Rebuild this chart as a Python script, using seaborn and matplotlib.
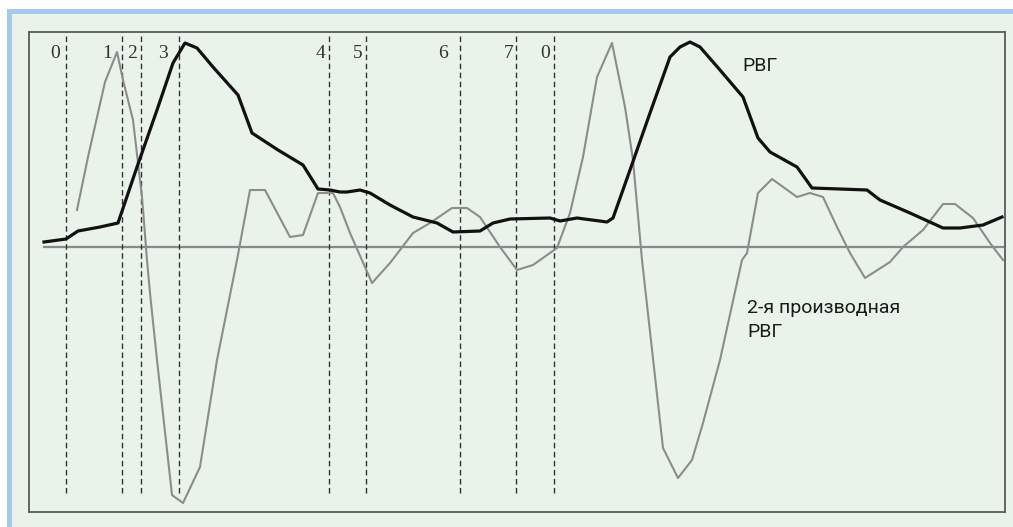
import numpy as np
import pandas as pd
import matplotlib.pyplot as plt
from matplotlib.patches import Rectangle
import seaborn as sns

# РВГ curve (time, amplitude)
rvg_t = [15, 37, 49, 71, 89, 108, 128, 144, 156, 168, 184, 209, 223, 249, 274, 289,
         301, 311, 318, 331, 341, 361, 384, 408, 424, 451, 464, 481, 521, 531, 548,
         578, 584, 601, 621, 641, 651, 661, 671, 691, 714, 729, 741, 768, 783, 838,
         851, 881, 914, 931, 954, 973]
rvg_v = [5, 8, 16, 20, 24, 80, 137, 184, 204, 199, 180, 152, 114, 97, 82, 58,
         57, 55, 55, 57, 54, 42, 30, 24, 15, 16, 24, 28, 29, 26, 29,
         25, 29, 77, 134, 190, 200, 205, 200, 177, 150, 109, 95, 80, 59, 57,
         47, 34, 19, 19, 22, 30]

# 2nd derivative of РВГ
d2_t = [48, 59, 76, 88, 94, 104, 113, 118, 121, 128, 143, 154, 171, 188, 208, 221, 236,
        261, 274, 289, 304, 311, 321, 336, 343, 361, 384, 401, 423, 438, 451, 471,
        488, 504, 528, 541, 554, 568, 583, 596, 604, 613, 634, 649, 663, 674, 691,
        713, 718, 729, 743, 768, 781, 794, 808, 821, 836, 861, 874, 894, 914, 926,
        944, 961, 974]
d2_v = [37, 90, 165, 195, 167, 127, 50, -13, -46, -113, -248, -256, -220, -113, -13, 57, 57,
        10, 12, 54, 54, 40, 14, -20, -36, -16, 14, 24, 39, 39, 30, 0,
        -23, -18, -1, 34, 90, 170, 204, 140, 87, -13, -201, -231, -213, -176, -113,
        -13, -6, 54, 68, 50, 54, 50, 20, -6, -31, -15, 0, 17, 43, 43,
        29, 4, -13]

# phase markers
phase_labels = ['0', '1', '2', '3', '4', '5', '6', '7', '0']
phase_t = [37, 93, 112, 150, 300, 337, 431, 487, 525]
label_t = [31, 83, 108, 139, 296, 333, 419, 484, 521]

rvg = pd.DataFrame({'t': rvg_t, 'v': rvg_v})
d2 = pd.DataFrame({'t': d2_t, 'v': d2_v})

W, H = 1013, 527
bg = '#e9f3ea'
fig = plt.figure(figsize=(W / 100, H / 100), dpi=100, facecolor='white')
fig.patches.append(Rectangle((7 / W, 0), 1, 1 - 9 / H, transform=fig.transFigure,
                             facecolor='#a6c8ea', edgecolor='none', zorder=-3))
fig.patches.append(Rectangle((12 / W, 0), 1, 1 - 14 / H, transform=fig.transFigure,
                             facecolor=bg, edgecolor='none', zorder=-2))

ax = fig.add_axes([29 / W, 1 - 512 / H, 976 / W, 480 / H])
ax.set_facecolor(bg)
for s in ax.spines.values():
    s.set_color('#5a5a5a')
    s.set_linewidth(1.3)

ax.plot([15, 974], [0, 0], color='#8a8a8a', lw=1.6, zorder=1)

for x in phase_t:
    ax.axvline(x, ymin=19 / 480, ymax=1, color='#333333', lw=1.0,
               dashes=(4, 2.5), zorder=1)
for x, lab in zip(label_t, phase_labels):
    ax.text(x, 193, lab, ha='right', va='center', fontsize=14,
            family='Liberation Serif', color='#333333')

sns.lineplot(data=d2, x='t', y='v', ax=ax, color='#8c8c8c', lw=1.5,
             estimator=None, sort=False, zorder=2)
sns.lineplot(data=rvg, x='t', y='v', ax=ax, color='#111111', lw=2.3,
             estimator=None, sort=False, zorder=3)
ax.set_xlabel('')
ax.set_ylabel('')
ax.set_xticks([])
ax.set_yticks([])
ax.set_xlim(0, 976)
ax.set_ylim(-265, 215)

cond = ['Liberation Sans Narrow', 'Roboto', 'DejaVu Sans']
ax.text(713, 176, 'РВГ', fontsize=14, family=cond, color='#1a1a1a',
        ha='left', va='baseline')
ax.text(718, -66, '2-я производная', fontsize=14, family=cond,
        color='#1a1a1a', ha='left', va='baseline')
ax.text(718, -90, 'РВГ', fontsize=14, family=cond,
        color='#1a1a1a', ha='left', va='baseline')

fig.savefig('out.png', dpi=100, facecolor=fig.get_facecolor())
